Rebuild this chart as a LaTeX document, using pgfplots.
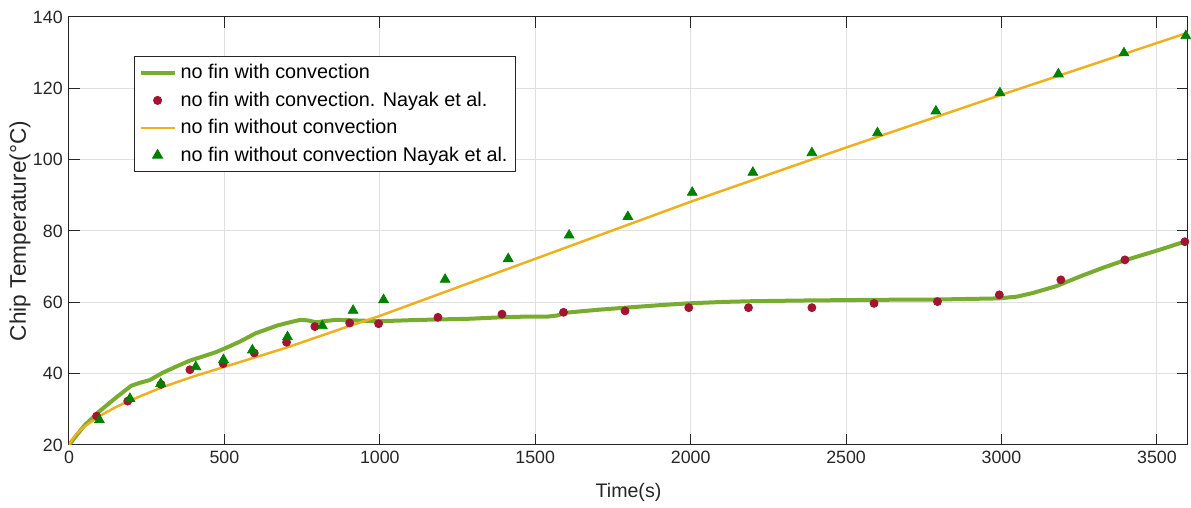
\documentclass[border=0pt]{standalone}
\usepackage{fontspec}
\setmainfont{Liberation Sans}
\usepackage{pgfplots}
\pgfplotsset{compat=1.18}
\definecolor{mgreen}{RGB}{119,172,48}
\definecolor{myellow}{RGB}{237,177,32}
\definecolor{mred}{RGB}{162,20,47}
\definecolor{mtri}{RGB}{0,128,0}
\definecolor{axgray}{RGB}{38,38,38}
\definecolor{gridgray}{RGB}{223,223,223}
\begin{document}
\fontsize{8.9}{10.5}\selectfont
\begin{tikzpicture}
\useasboundingbox (-34.5pt,-31.5pt) rectangle (561pt,222.5pt);
\begin{axis}[
  scale only axis, width=559.5pt, height=214pt,
  at={(0,0)}, anchor=south west,
  xmin=0, xmax=3600, ymin=20, ymax=140,
  xtick={0,500,...,3500}, ytick={20,40,...,140},
  tick align=inside, tick pos=both,
  major tick length=5.5pt,
  grid=major, grid style={gridgray, line width=0.5pt},
  axis line style={axgray, line width=0.5pt},
  tick style={axgray, line width=0.5pt},
  ticklabel style={font=\fontsize{8.9}{10}\selectfont, text=axgray},
  /pgf/number format/assume math mode=true,
  /pgf/number format/1000 sep={},
  xlabel={Time(s)}, ylabel={Chip Temperature(°C)},
  label style={text=axgray},
  xlabel style={font=\fontsize{9.8}{11}\selectfont, at={(axis description cs:0.5,-0.1098)}, anchor=center},
  ylabel style={font=\fontsize{11.3}{12}\selectfont, at={(axis description cs:-0.0438,0.5)}, anchor=center},
  legend style={at={(0.0581,0.9089)}, anchor=north west, draw=axgray, line width=0.5pt, fill=white,
    font=\fontsize{9.9}{12}\selectfont, row sep=1.2pt, inner sep=2pt},
  legend cell align=left,
]
\addplot[mgreen, line width=2pt, line join=round] coordinates {
(0,20) (25,22.8) (50,25.5) (100,29.6) (150,33.2) (200,36.6) (230,37.5) (260,38.2) (300,40.2) (350,42.2) (390,43.7) (430,44.8) (475,46.1) (520,47.8) (550,49.0) (600,51.3) (670,53.5) (720,54.6) (745,55.1) (770,54.9) (795,54.4) (830,54.8) (860,55.1) (930,54.9) (1000,54.7) (1100,55.0) (1190,55.2) (1290,55.4) (1390,55.8) (1470,56.0) (1540,56.0) (1570,56.3) (1600,57.1) (1700,57.9) (1790,58.5) (1900,59.2) (1990,59.7) (2100,60.1) (2190,60.3) (2350,60.5) (2590,60.7) (2800,60.8) (2990,61.1) (3050,61.6) (3100,62.6) (3175,64.5) (3260,67.5) (3330,69.8) (3390,71.6) (3500,74.5) (3600,77.3)
};
\addlegendentry{no fin with convection}
\addplot[only marks, mark=*, mark size=2pt, mred, mark options={draw=mred, fill=mred}] coordinates {
(89,28.1) (189,32.3) (296,37.0) (389,41.1) (496,42.8) (596,45.8) (700,48.8) (791,53.2) (903,54.2) (996,54.0) (1187,55.8) (1393,56.7) (1591,57.2) (1789,57.6) (1994,58.5) (2186,58.5) (2390,58.5) (2590,59.7) (2794,60.2) (2993,62.1) (3191,66.3) (3397,71.9) (3590,77.0)
};
\addlegendentry{no fin with convection. Nayak et al.}
\addplot[myellow, line width=1.25pt, line join=round] coordinates {
(0,20) (10,21.5) (25,23.2) (50,25.2) (100,28.2) (150,30.6) (200,32.6) (300,36.2) (400,39.2) (500,41.9) (600,44.6) (700,47.3) (800,50.3) (900,53.3) (1000,56.2) (1500,72.2) (2000,88.2) (2500,103.4) (3000,118.2) (3600,135.6)
};
\addlegendentry{no fin without convection}
\addplot[only marks, mark=triangle*, mark size=2.8pt, mtri, mark options={draw=mtri, fill=mtri}] coordinates {
(98,27.0) (196,33.0) (295,37.2) (408,41.9) (497,43.9) (590,46.6) (703,50.3) (815,53.4) (914,57.7) (1012,60.7) (1210,66.4) (1413,72.2) (1609,78.8) (1798,84.0) (2005,90.8) (2200,96.4) (2390,101.9) (2601,107.5) (2789,113.6) (2995,118.7) (3183,124.0) (3394,129.9) (3593,134.7)
};
\addlegendentry{no fin without convection Nayak et al.}
\end{axis}
\end{tikzpicture}
\end{document}
